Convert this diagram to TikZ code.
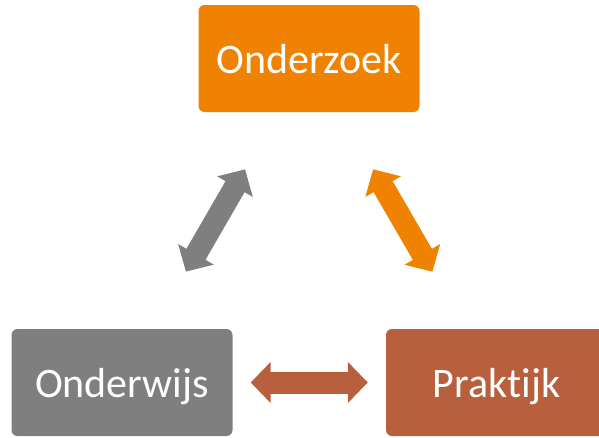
\documentclass[tikz,border=0pt]{standalone}
\usepackage{fontspec}
\setmainfont[Ligatures={NoCommon}]{Carlito}
\usetikzlibrary{arrows.meta}
\definecolor{oranje}{RGB}{239,130,0}
\definecolor{grijs}{RGB}{127,127,127}
\definecolor{roest}{RGB}{184,95,61}
\tikzset{
  blok/.style={rounded corners=6pt,minimum width=221pt,minimum height=107pt,inner sep=0pt,
    text=white,text depth=0pt,font=\fontsize{42}{50}\selectfont},
  pijl/.style={line width=22pt,{Triangle[length=20pt,width=40pt]}-{Triangle[length=20pt,width=40pt]}}
}
\begin{document}
\begin{tikzpicture}[x=1pt,y=-1pt]
			\useasboundingbox (0,0) rectangle (599,437);
			% Blokken
			\node[blok,fill=oranje] (onderzoek) at (309,58.5) {Onderzoek};
			\node[blok,fill=grijs] (onderwijs) at (122,382.5) {Onderwijs};
			\node[blok,fill=roest] (praktijk) at (496.5,382.5) {Praktijk};

			% Pijlen
			\draw[pijl,grijs,shorten <=66pt,shorten >=66pt] (onderwijs) -- (onderzoek);
			\draw[pijl,oranje,shorten <=66pt,shorten >=66pt] (onderzoek) -- (praktijk);
			\draw[pijl,roest,shorten <=18pt,shorten >=18pt] (onderwijs) -- (praktijk);
\end{tikzpicture}
\end{document}
